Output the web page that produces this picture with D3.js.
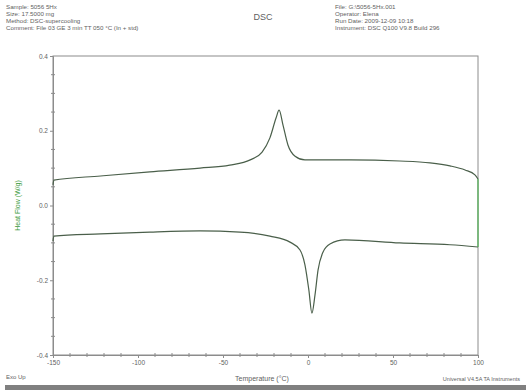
<!DOCTYPE html>
<html>
<head>
<meta charset="utf-8">
<script src="https://cdn.jsdelivr.net/npm/d3@7"></script>
<style>
  html, body { margin: 0; padding: 0; background: #fff; }
  svg { display: block; font-family: "Liberation Sans", Arial, sans-serif; }
</style>
</head>
<body>
<svg id="chart" width="526" height="390"></svg>
<script>
// Heating run (upper trace): temperature in °C and heat flow in W/g
const heatTemp = [-150, -149.5, -122, -93, -63.5, -46, -34, -27, -22.4, -18.8, -17, -14.7, -11.8, -7.6, -1.8, 24.7, 54, 71.8, 83.5, 92.4, 98.2, 100];
const heatFlow = [0.055, 0.068, 0.079, 0.090, 0.100, 0.108, 0.122, 0.143, 0.181, 0.234, 0.255, 0.215, 0.162, 0.132, 0.122, 0.122, 0.119, 0.114, 0.106, 0.095, 0.082, 0.071];

// Cooling run (lower trace)
const coolTemp = [-150, -149.5, -122, -93, -63.5, -40, -22.4, -10.6, -4.7, -1.8, 0.5, 2.3, 4.1, 5.9, 8.8, 12.9, 21.7, 54, 83.5, 100];
const coolFlow = [-0.095, -0.082, -0.076, -0.071, -0.068, -0.071, -0.082, -0.098, -0.119, -0.159, -0.226, -0.288, -0.240, -0.173, -0.125, -0.103, -0.092, -0.100, -0.105, -0.111];

// Axis ticks
const xTicks = [-150, -100, -50, 0, 50, 100];
const xTickLabels = ["-150", "-100", "-50", "0", "50", "100"];
const xMinorTicks = [-140, -130, -120, -110, -90, -80, -70, -60, -40, -30, -20, -10, 10, 20, 30, 40, 60, 70, 80, 90];
const yTicks = [-0.4, -0.2, 0.0, 0.2, 0.4];
const yTickLabels = ["-0.4", "-0.2", "0.0", "0.2", "0.4"];
const yMinorTicks = [-0.35, -0.3, -0.25, -0.15, -0.1, -0.05, 0.05, 0.1, 0.15, 0.25, 0.3, 0.35];

// Header text
const headerLeft = ["Sample: 5056 5Hx", "Size:  17.5000 mg", "Method: DSC-supercooling", "Comment: File 03 GE 3 min TT 050 °C (In + std)"];
const headerRight = ["File: G:\\5056-5Hx.001", "Operator: Elena", "Run Date: 2009-12-09 10:18", "Instrument: DSC Q100 V9.8 Build 296"];

const svg = d3.select("#chart");
const W = 526, H = 390;
const plot = { left: 53, right: 478, top: 56, bottom: 355 };

const x = d3.scaleLinear().domain([-150, 100]).range([plot.left, plot.right]);
const y = d3.scaleLinear().domain([-0.4, 0.4]).range([plot.bottom, plot.top]);

const textColor = "#5f5f5f";
const axisColor = "#8c8c8c";

// Header blocks
svg.append("g").selectAll("text").data(headerLeft).join("text")
  .attr("x", 6).attr("y", (d, i) => 9 + i * 7)
  .attr("font-size", 6.2).attr("fill", textColor).text(d => d);
svg.append("g").selectAll("text").data(headerRight).join("text")
  .attr("x", 335).attr("y", (d, i) => 9 + i * 7)
  .attr("font-size", 6.2).attr("fill", textColor).text(d => d);
svg.append("text").attr("x", 263).attr("y", 20).attr("text-anchor", "middle")
  .attr("font-size", 9).attr("fill", textColor).text("DSC");

// Plot frame
svg.append("rect")
  .attr("x", plot.left).attr("y", plot.top)
  .attr("width", plot.right - plot.left).attr("height", plot.bottom - plot.top)
  .attr("fill", "none").attr("stroke", axisColor).attr("stroke-width", 1);

// Y axis
const yAxis = d3.axisLeft(y).tickValues(yTicks).tickSize(3).tickPadding(2)
  .tickFormat((d, i) => yTickLabels[i]);
const gy = svg.append("g").attr("transform", `translate(${plot.left},0)`).call(yAxis);
gy.select(".domain").attr("stroke", axisColor);
gy.selectAll(".tick line").attr("stroke", axisColor);
gy.selectAll(".tick text").attr("font-size", 6.5).attr("fill", textColor).attr("font-family", "Liberation Sans, Arial, sans-serif");
svg.append("g").selectAll("line").data(yMinorTicks).join("line")
  .attr("x1", plot.left - 2).attr("x2", plot.left + 2)
  .attr("y1", d => y(d)).attr("y2", d => y(d))
  .attr("stroke", axisColor);

// X axis
const xAxis = d3.axisBottom(x).tickValues(xTicks).tickSize(3).tickPadding(2)
  .tickFormat((d, i) => xTickLabels[i]);
const gx = svg.append("g").attr("transform", `translate(0,${plot.bottom})`).call(xAxis);
gx.select(".domain").attr("stroke", axisColor);
gx.selectAll(".tick line").attr("stroke", axisColor);
gx.selectAll(".tick text").attr("font-size", 6.5).attr("fill", textColor).attr("font-family", "Liberation Sans, Arial, sans-serif");
svg.append("g").selectAll("line").data(xMinorTicks).join("line")
  .attr("x1", d => x(d)).attr("x2", d => x(d))
  .attr("y1", plot.bottom - 2).attr("y2", plot.bottom + 2)
  .attr("stroke", axisColor);

// Axis titles and footer
svg.append("text")
  .attr("transform", `translate(20,${(plot.top + plot.bottom) / 2}) rotate(-90)`)
  .attr("text-anchor", "middle").attr("font-size", 7).attr("fill", "#3a9a3a")
  .text("Heat Flow (W/g)");
svg.append("text").attr("x", 262).attr("y", 381).attr("text-anchor", "middle")
  .attr("font-size", 7).attr("fill", textColor).text("Temperature (°C)");
svg.append("text").attr("x", 6).attr("y", 379)
  .attr("font-size", 6).attr("fill", textColor).text("Exo Up");
svg.append("text").attr("x", 520).attr("y", 381).attr("text-anchor", "end")
  .attr("font-size", 5.5).attr("fill", textColor).text("Universal V4.5A TA Instruments");
svg.append("rect").attr("x", 5).attr("y", 385).attr("width", W - 5).attr("height", 5).attr("fill", "#808080");

// Traces
const line = d3.line().x(d => x(d[0])).y(d => y(d[1])).curve(d3.curveMonotoneX);
const heat = heatTemp.map((t, i) => [t, heatFlow[i]]);
const cool = coolTemp.map((t, i) => [t, coolFlow[i]]);

const traceColor = "#4a5f4a";
svg.append("path").datum(heat).attr("d", line)
  .attr("fill", "none").attr("stroke", traceColor).attr("stroke-width", 1.2);
svg.append("path").datum(cool).attr("d", line)
  .attr("fill", "none").attr("stroke", traceColor).attr("stroke-width", 1.2);

// Isothermal segment joining the two runs at the upper temperature
svg.append("line")
  .attr("x1", x(heatTemp[heatTemp.length - 1])).attr("x2", x(coolTemp[coolTemp.length - 1]))
  .attr("y1", y(heatFlow[heatFlow.length - 1])).attr("y2", y(coolFlow[coolFlow.length - 1]))
  .attr("stroke", "#4caf50").attr("stroke-width", 1.2);
</script>
</body>
</html>
